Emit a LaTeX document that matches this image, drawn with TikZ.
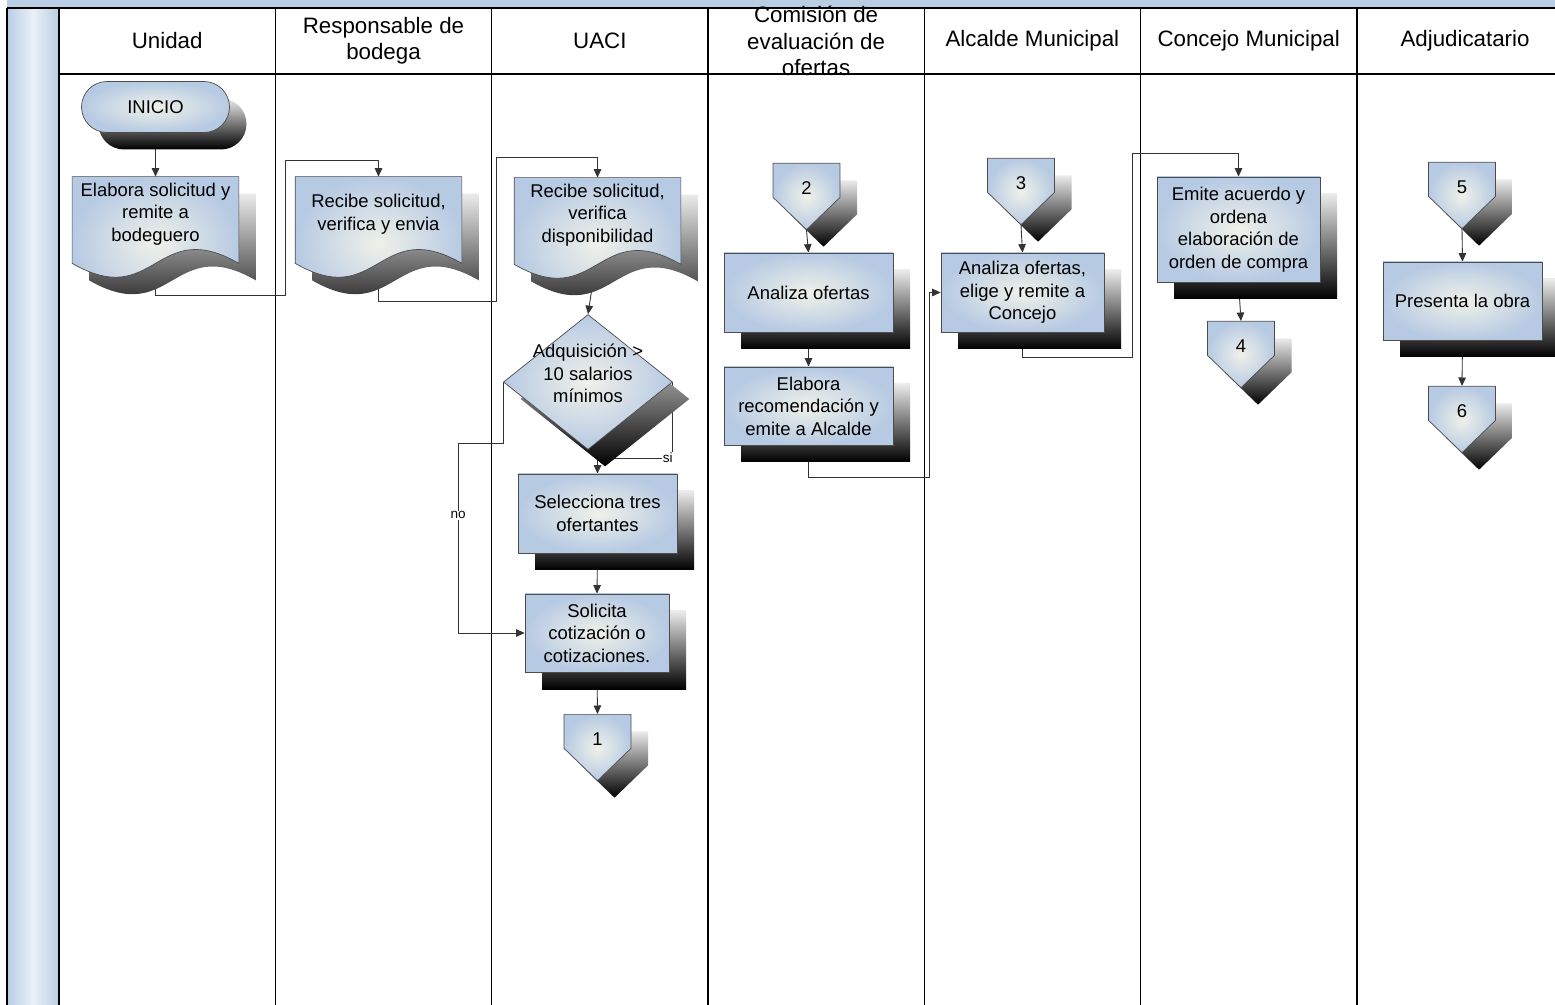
\documentclass[tikz,border=0pt]{standalone}
\usepackage{fontspec}
\setmainfont{Liberation Sans}
\usepackage{tikz}
\usetikzlibrary{shapes.geometric, shapes.symbols, arrows.meta, positioning, backgrounds, calc, shadows}

\definecolor{laneblue}{HTML}{B9CDE5}
\definecolor{boxblue}{HTML}{B7CAE3}
\definecolor{boxlight}{HTML}{EFF1E9}

\begin{document}
\begin{tikzpicture}[
    x=0.2mm, y=-0.2mm,
    every node/.style={font=\fontsize{10.5}{12.8}\selectfont},
    lanehead/.style={align=center, font=\fontsize{12.7}{15}\selectfont},
    lanerule/.style={line width=0.8pt, draw=black},
    shade3d/.style={general shadow={shadow xshift=3.4mm, shadow yshift=-3.4mm, top color=black!8, bottom color=black}},
    bluefill/.style={draw=black!70, line width=0.4pt, inner color=boxlight, outer color=boxblue},
    docshadow/.style={transform canvas={shift={(3.4mm,-3.4mm)}}, top color=black!8, bottom color=black},
    terminal/.style={rectangle, rounded corners=5.1mm, bluefill, shade3d, minimum width=29.6mm, minimum height=10.2mm},
    docbox/.style={rectangle, align=center, minimum width=33.2mm, minimum height=14.8mm, inner sep=1pt},
    process/.style={rectangle, bluefill, shade3d, align=center, minimum width=#1, minimum height=15.8mm, inner sep=1pt},
    process/.default=33.8mm,
    decision/.style={diamond, bluefill, shade3d, minimum width=33.8mm, minimum height=27mm, inner sep=0pt},
    offpage/.style={signal, signal to=south, signal pointer angle=92, bluefill, shade3d, minimum width=13.4mm, minimum height=6.8mm, inner sep=0pt, anchor=north, label={[yshift=-1.5mm]center:#1}},
    flow/.style={-{Triangle[length=1.7mm, width=1.5mm]}, draw=black!80, line width=0.5pt},
    branch/.style={fill=white, inner sep=0.5pt, font=\fontsize{7.7}{9}\selectfont}
]
    \useasboundingbox (0,0) rectangle (1555,1005);

    % Lane titles
    \foreach \name [count=\i from 0] in {Unidad, {Responsable de\\bodega}, UACI, {Comisión de\\evaluación de\\ofertas}, Alcalde Municipal, Concejo Municipal, Adjudicatario}
        \node[lanehead] (lane\i) at (167.2+216.3*\i, 41) {\name};

    % Unidad
    \node[terminal] (inicio) at (155.5,107) {INICIO};
    \node[docbox] (elab) at (155.5,214) {Elabora solicitud y\\remite a\\bodeguero};

    % Responsable de bodega
    \node[docbox] (recibe) at (378.5,214) {Recibe solicitud,\\verifica y envia};

    % UACI
    \node[docbox] (verif) at (597.5,215) {Recibe solicitud,\\verifica\\disponibilidad};
    \node[decision, label={[align=center, yshift=1.7mm]center:{Adquisición >\\10 salarios\\mínimos}}] (adq) at (588,382) {};
    \node[process=31.8mm] (selec) at (597.5,513.5) {Selecciona tres\\ofertantes};
    \node[process=28.8mm, minimum height=15.6mm] (solic) at (597,633) {Solicita\\cotización o\\cotizaciones.};
    \node[offpage=1] (c1) at (597.5,714) {};

    % Comision de evaluacion
    \node[offpage=2] (c2) at (806.5,163) {};
    \node[process] (analiza) at (808.5,292.5) {Analiza ofertas};
    \node[process, minimum height=15.6mm] (recom) at (808.5,406) {Elabora\\recomendación y\\emite a Alcalde};

    % Alcalde Municipal
    \node[offpage=3] (c3) at (1021,158) {};
    \node[process=32.6mm] (elige) at (1022.5,292.5) {Analiza ofertas,\\elige y remite a\\Concejo};

    % Concejo Municipal
    \node[process=32.6mm, minimum height=21mm] (emite) at (1238.5,229.5) {Emite acuerdo y\\ordena\\elaboración de\\orden de compra};
    \node[offpage=4] (c4) at (1241,321) {};

    % Adjudicatario
    \node[offpage=5] (c5) at (1462,162) {};
    \node[process=31.8mm, minimum height=15.6mm] (obra) at (1462.5,301) {Presenta la obra};
    \node[offpage=6] (c6) at (1462,386) {};

    \begin{scope}[on background layer]
        % swimlane frame
        \fill[laneblue] (7,0) rectangle (1555,8);
        \shade[left color=laneblue, right color=laneblue, middle color=laneblue!30] (7,8) rectangle (59,1005);
        \draw[lanerule] (7,8) -- (1555,8);
        \draw[lanerule] (7,8) -- (7,1005);
        \foreach \i in {0,...,6}
            \draw[lanerule] (59+216.3*\i,8) -- (59+216.3*\i,1005);
        \draw[lanerule] (59,74) -- (1555,74);

        % Arrows
        \draw[flow] (inicio.south) -- (elab.north);
        \draw[flow] (elab.south) -- ++(0,44) -| ($(recibe.north)+(-93,-16)$) -| (recibe.north);
        \draw[flow] (recibe.south) -- ++(0,50) -| ($(verif.north)+(-101.5,-20)$) -| (verif.north);
        \draw[flow] (verif.south) -- (adq.north);
        \draw[flow] (adq.east) -- ++(0,76) node[branch, xshift=-1mm] {si} -| (selec.north);
        \draw[flow] (adq.west) -- ++(0,61) -- ++(-45,0) |- node[branch, pos=0.19] {no} (solic.west);
        \draw[flow] (selec.south) -- (solic.north);
        \draw[flow] (solic.south) -- (c1.north);
        \draw[flow] (c2.south) -- (analiza.north);
        \draw[flow] (analiza.south) -- (recom.north);
        \draw[flow] (recom.south) -- ++(0,32) -| ([xshift=-2.2mm]elige.west) -- (elige.west);
        \draw[flow] (c3.south) -- (elige.north);
        \draw[flow] (elige.south) -- ++(0,25) -| ($(emite.north)+(-106,-23)$) -| (emite.north);
        \draw[flow] (emite.south) -- (c4.north);
        \draw[flow] (c5.south) -- (obra.north);
        \draw[flow] (obra.south) -- (c6.north);

        % document outlines with wavy bottom
        \foreach \d in {elab, recibe, verif} {
            \path[docshadow] (\d.north west) -- (\d.north east) -- ($(\d.south east)+(0,12)$)
                .. controls ($(\d.south)+(0,-36)$) and ($(\d.south)+(0,60)$) .. ($(\d.south west)+(0,12)$) -- cycle;
            \path[bluefill] (\d.north west) -- (\d.north east) -- ($(\d.south east)+(0,12)$)
                .. controls ($(\d.south)+(0,-36)$) and ($(\d.south)+(0,60)$) .. ($(\d.south west)+(0,12)$) -- cycle;
        }
    \end{scope}
\end{tikzpicture}
\end{document}
